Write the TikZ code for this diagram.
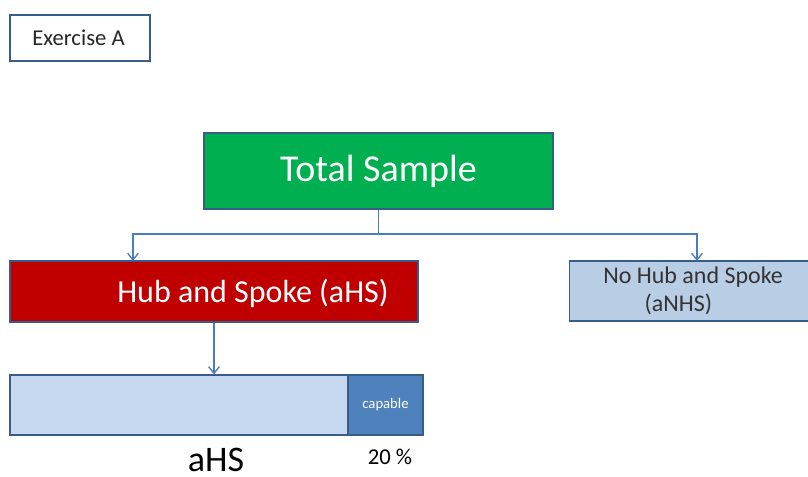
\documentclass[tikz,border=0pt]{standalone}
\usepackage{fontspec}
\setmainfont{Carlito}
\usetikzlibrary{arrows.meta}
\definecolor{boxEdge}{HTML}{385D8A}
\definecolor{linkBlue}{HTML}{4A7EBB}
\definecolor{totGreen}{HTML}{00B050}
\definecolor{hubRed}{HTML}{C00000}
\definecolor{noHubBlue}{HTML}{B9CDE5}
\definecolor{barLight}{HTML}{C6D9F1}
\definecolor{barDark}{HTML}{4F81BD}
\begin{document}
\begin{tikzpicture}[x=0.75pt, y=-0.75pt, >={Straight Barb[length=5pt, width=8pt]},
        box/.style={rectangle, draw=boxEdge, line width=0.9pt, inner sep=0pt},
        link/.style={draw=linkBlue, line width=1pt},
        txt/.style={inner sep=0pt}]
        \useasboundingbox (0,0) rectangle (808,477);

        \node[box, line width=1.2pt, minimum width=105pt, minimum height=34.5pt] (ex) at (80,38) {};
        \node[txt, font=\fontsize{17}{20}\selectfont, text=black!85] (extxt) at (78.5,38) {Exercise A};

        \node[box, fill=totGreen, minimum width=261.75pt, minimum height=57pt, text=white, font=\fontsize{28.5}{34}\selectfont] (tot) at (378.5,171) {Total Sample};

        \node[box, fill=hubRed, minimum width=306pt, minimum height=45.75pt] (hub) at (214,291.5) {};
        \node[txt, text=white, font=\fontsize{24}{28}\selectfont] (hubtxt) at (253,293) {Hub and Spoke (aHS)};

        \node[box, fill=noHubBlue, minimum width=179.25pt, minimum height=45pt] (nohub) at (689,291) {};
        \node[txt, anchor=west, align=left, text=black!80, font=\fontsize{18}{21}\selectfont] (nohubtxt) at (603,291) {No Hub and Spoke\\\hspace*{31pt}(aNHS)};

        \node[box, fill=barLight, minimum width=253.5pt, minimum height=45pt] (barlight) at (179,405) {};
        \node[box, fill=barDark, minimum width=56.25pt, minimum height=45pt, text=white, font=\fontsize{11}{13}\selectfont] (barcap) at (385.5,405) {capable};

        \node[txt, anchor=base, font=\fontsize{27}{32}\selectfont] (ahs) at (216,472) {aHS};
        \node[txt, font=\fontsize{17}{20}\selectfont] (pct) at (390,457) {20 \%};

        \coordinate (split) at (378.5,234);
        \coordinate (hubIn) at (133,261);
        \coordinate (noIn) at (697,261);
        \draw[link] (tot.south) -- (split);
        \draw[link, ->] (split) -| (hubIn);
        \draw[link, ->] (split) -| (noIn);
        \draw[link, ->] (hub.south) -- (hub.south |- barlight.north);
\end{tikzpicture}
\end{document}
